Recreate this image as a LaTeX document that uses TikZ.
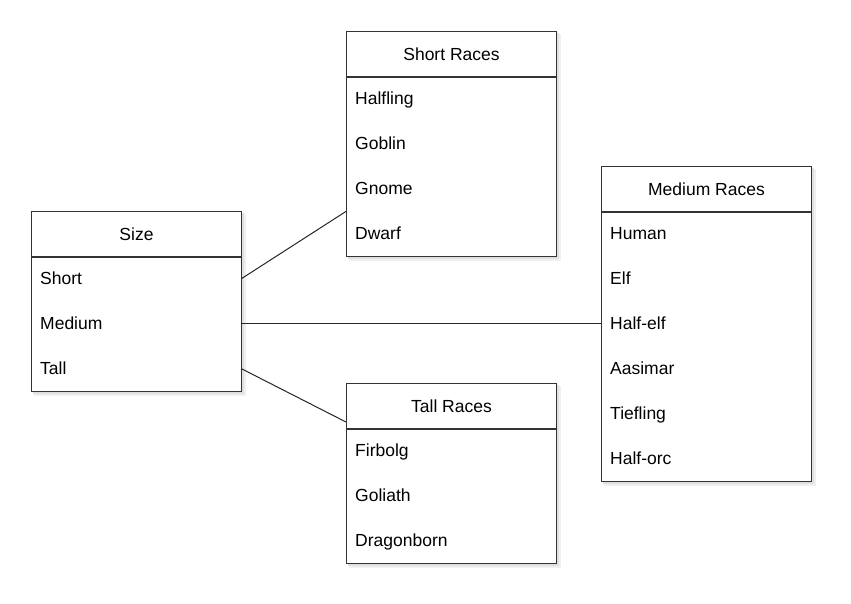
\documentclass[tikz,border=0pt]{standalone}
\usepackage{fontspec}
\setmainfont{Liberation Sans}
\usetikzlibrary{calc}
\tikzset{
  hdr/.style={draw=black!80, line width=1pt, fill=white, minimum width=210pt, minimum height=45pt, anchor=north west, inner sep=0pt, text height=14pt, text depth=2pt, font=\fontsize{17.5}{19}\selectfont},
  rowc/.style={minimum width=210pt, minimum height=45pt, anchor=north west, inner sep=0pt, text width=192pt, text height=14pt, text depth=2pt, align=left, font=\fontsize{17.5}{19}\selectfont},
  tframe/.style={draw=black!80, line width=1pt},
  link/.style={draw=black!85, line width=1pt}
}
\newcommand{\tbox}[3]{% x, y top, rows
  \fill[black!6] (#1+3,#2+3) rectangle (#1+215,#2+45+#3*45+5);
  \fill[black!12] (#1+2,#2+2) rectangle (#1+213,#2+45+#3*45+3);
  \fill[white] (#1,#2) rectangle (#1+210,#2+45+#3*45);
}
\begin{document}
\begin{tikzpicture}[x=1pt,y=-1pt]
\useasboundingbox (0,0) rectangle (851,603);
\fill[white] (0,0) rectangle (851,603);
% shadows and backgrounds
\tbox{31}{211}{3}
\tbox{346}{31}{4}
\tbox{601}{166}{6}
\tbox{346}{383}{3}
% Size table
\node[hdr] (sizeh) at (31,211) {Size};
\node[rowc] (rshort) at (31,256) {Short};
\node[rowc] (rmedium) at (31,301) {Medium};
\node[rowc] (rtall) at (31,346) {Tall};
\draw[tframe] (sizeh.south west) rectangle (rtall.south east);
% Short Races
\node[hdr] (shorth) at (346,31) {Short Races};
\node[rowc] (halfling) at (346,76) {Halfling};
\node[rowc] (goblin) at (346,121) {Goblin};
\node[rowc] (gnome) at (346,166) {Gnome};
\node[rowc] (dwarf) at (346,211) {Dwarf};
\draw[tframe] (shorth.south west) rectangle (dwarf.south east);
% Medium Races
\node[hdr] (mediumh) at (601,166) {Medium Races};
\node[rowc] (human) at (601,211) {Human};
\node[rowc] (elf) at (601,256) {Elf};
\node[rowc] (halfelf) at (601,301) {Half-elf};
\node[rowc] (aasimar) at (601,346) {Aasimar};
\node[rowc] (tiefling) at (601,391) {Tiefling};
\node[rowc] (halforc) at (601,436) {Half-orc};
\draw[tframe] (mediumh.south west) rectangle (halforc.south east);
% Tall Races
\node[hdr] (tallh) at (346,383) {Tall Races};
\node[rowc] (firbolg) at (346,428) {Firbolg};
\node[rowc] (goliath) at (346,473) {Goliath};
\node[rowc] (dragonborn) at (346,518) {Dragonborn};
\draw[tframe] (tallh.south west) rectangle (dragonborn.south east);
% connectors
\coordinate (tallin) at ($(tallh.south west)+(0,-7)$);
\draw[link] (rshort.east) -- (gnome.south west);
\draw[link] (rmedium.east) -- (halfelf.west);
\draw[link] (rtall.east) -- (tallin);
\end{tikzpicture}
\end{document}
